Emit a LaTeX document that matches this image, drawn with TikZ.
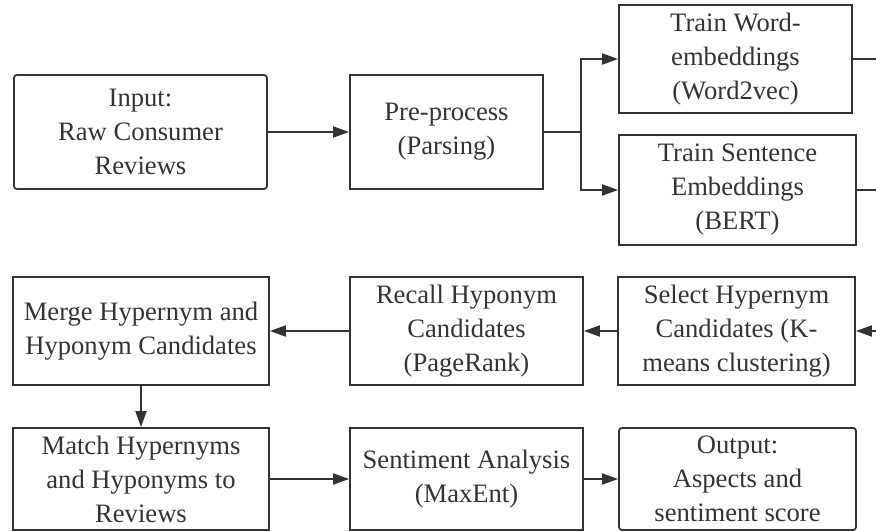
\documentclass[tikz,border=0pt]{standalone}
\usepackage{fontspec}
\setmainfont{Liberation Serif}
\usetikzlibrary{arrows.meta,positioning}
\definecolor{inkgray}{HTML}{333333}

\begin{document}
\begin{tikzpicture}[x=1pt, y=1pt,
        stepbox/.style={draw=inkgray, line width=1.8pt, text=inkgray, align=center,
            inner sep=0pt, font=\fontsize{26.6}{34}\selectfont},
        endbox/.style={stepbox, rounded corners=3pt},
        flow/.style={draw=inkgray, line width=1.8pt, -{Triangle[length=16pt, width=11pt]}},
        link/.style={draw=inkgray, line width=1.8pt}]
        \useasboundingbox (0,0) rectangle (876,531);

        \node[endbox, minimum width=253pt, minimum height=114pt] (input) at (140.5,399) {Input:\\Raw Consumer\\Reviews};
        \node[stepbox, minimum width=193pt, minimum height=114pt] (prep) at (446.5,399) {Pre-process\\(Parsing)};
        \node[stepbox, minimum width=233pt, minimum height=108pt] (word) at (735.5,472) {Train Word-\\embeddings\\(Word2vec)};
        \node[stepbox, minimum width=237pt, minimum height=110pt] (sent) at (737.5,341) {Train Sentence\\Embeddings\\(BERT)};

        \node[stepbox, minimum width=256pt, minimum height=108pt] (merge) at (141,200) {Merge Hypernym and\\Hyponym Candidates};
        \node[stepbox, minimum width=233pt, minimum height=108pt] (recall) at (466.5,200) {Recall Hyponym\\Candidates\\(PageRank)};
        \node[stepbox, minimum width=237pt, minimum height=108pt] (select) at (736.5,200) {Select Hypernym\\Candidates (K-\\means clustering)};

        \node[stepbox, minimum width=256pt, minimum height=102pt] (match) at (141,52) {Match Hypernyms\\and Hyponyms to\\Reviews};
        \node[stepbox, minimum width=233pt, minimum height=102pt] (senti) at (466.5,52) {Sentiment Analysis\\(MaxEnt)};
        \node[endbox, minimum width=237pt, minimum height=102pt] (output) at (737.5,52) {Output:\\Aspects and\\sentiment score};

        % Junction and free ends at the right edge
        \coordinate (split) at (581,399);
        \coordinate (wordout) at (876,472);
        \coordinate (sentout) at (876,341);
        \coordinate (selectin) at (876,200);

        \draw[flow] (input) -- (prep);
        \draw[link] (prep) -- (split);
        \draw[flow] (split) |- (word);
        \draw[flow] (split) |- (sent);
        \draw[link] (word) -- (wordout);
        \draw[link] (sent) -- (sentout);
        \draw[flow] (selectin) -- (select);
        \draw[flow] (select) -- (recall);
        \draw[flow] (recall) -- (merge);
        \draw[flow] (merge) -- (match);
        \draw[flow] (match) -- (senti);
        \draw[flow] (senti) -- (output);
    \end{tikzpicture}
\end{document}
